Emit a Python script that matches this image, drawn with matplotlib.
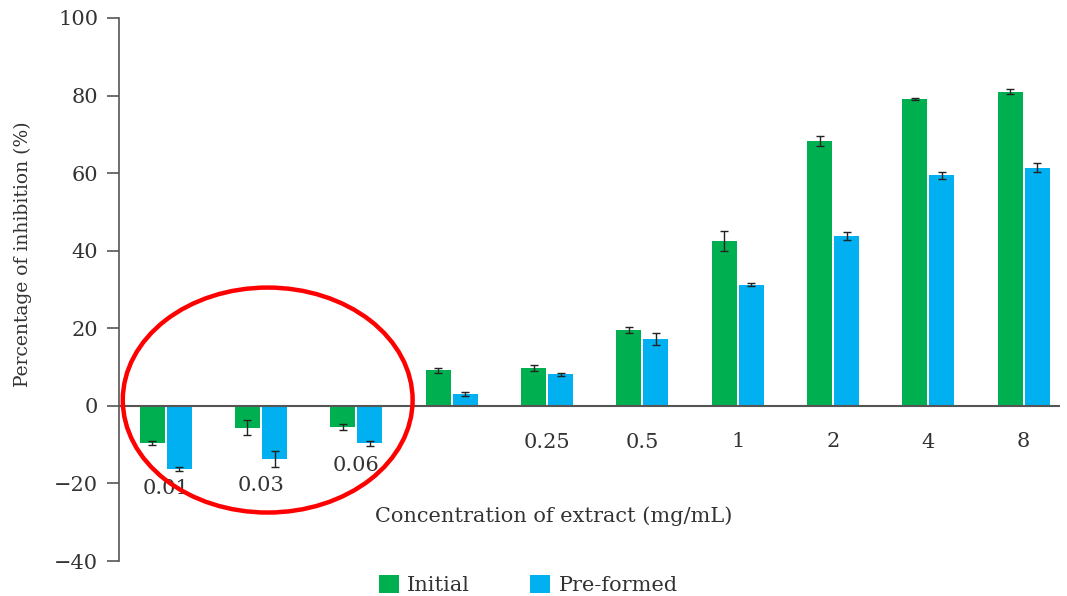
import matplotlib.pyplot as plt
import numpy as np
from matplotlib.patches import Ellipse, Patch

# data
concentrations = ["0.01", "0.03", "0.06", "", "0.25", "0.5", "1", "2", "4", "8"]
initial = [-9.5, -5.6, -5.4, 9.2, 9.8, 19.6, 42.6, 68.2, 79.1, 81.0]
initial_err = [0.5, 1.9, 0.8, 0.6, 0.8, 0.8, 2.6, 1.3, 0.3, 0.6]
preformed = [-16.3, -13.7, -9.7, 3.1, 8.2, 17.2, 31.2, 43.8, 59.4, 61.4]
preformed_err = [0.5, 2.0, 0.6, 0.5, 0.4, 1.6, 0.4, 1.0, 0.8, 1.1]

# where each category label is written (label text sits under the bars)
label_y = [-21.2, -20.6, -15.4, -9.4, -9.4, -9.4, -9.2, -9.2, -9.4, -9.2]

green = "#00B050"
blue = "#00B0F0"
font_size = 15
text_color = "#333333"

plt.rcParams["font.family"] = ["DejaVu Serif"]

fig = plt.figure(figsize=(10.67, 5.96), dpi=100)
ax = fig.add_axes([0.1115, 0.0587, 0.8819, 0.9111])

x = np.arange(len(concentrations))
width = 0.262
gap = 0.011
ax.bar(x - width / 2 - gap, initial, width, color=green, zorder=2)
ax.bar(x + width / 2 + gap, preformed, width, color=blue, zorder=2)
err_kw = dict(fmt="none", ecolor="#222222", elinewidth=1.0, capsize=3, capthick=1.0, zorder=3)
ax.errorbar(x - width / 2 - gap, initial, yerr=initial_err, **err_kw)
ax.errorbar(x + width / 2 + gap, preformed, yerr=preformed_err, **err_kw)

ax.axhline(0, color="#555555", linewidth=1.5, zorder=4)

for i, lab in enumerate(concentrations):
    ax.text(i, label_y[i], lab, ha="center", va="center", fontsize=font_size,
            color=text_color)

ax.text(4.07, -28.4, "Concentration of extract (mg/mL)", ha="center", va="center",
        fontsize=font_size, color=text_color)

ax.add_patch(Ellipse((1.07, 1.5), 3.04, 58, fill=False, edgecolor="#FF0000",
                     linewidth=3.2, zorder=5, clip_on=False))

ax.set_xlim(-0.49, 9.38)
ax.set_ylim(-40, 100)
ax.set_yticks(np.arange(-40, 101, 20))
ax.set_xticks([])
ax.tick_params(axis="y", direction="out", length=9, width=1.2, color="#555555",
               labelsize=font_size, labelcolor=text_color, pad=6)
for side in ["top", "right", "bottom"]:
    ax.spines[side].set_visible(False)
ax.spines["left"].set_color("#555555")
ax.spines["left"].set_linewidth(1.2)
ax.set_ylabel("Percentage of inhibition (%)", fontsize=13.5, color=text_color)
ax.yaxis.set_label_coords(-0.092, 0.565)

handles = [Patch(facecolor=green), Patch(facecolor=blue)]
fig.legend(handles, ["Initial", "Pre-formed"], loc="center", bbox_to_anchor=(0.495, 0.018),
           ncol=2, frameon=False, fontsize=font_size, handlelength=0.95, handleheight=0.95,
           handletextpad=0.4, columnspacing=2.9, labelcolor=text_color)

fig.savefig("out.png", dpi=100)
